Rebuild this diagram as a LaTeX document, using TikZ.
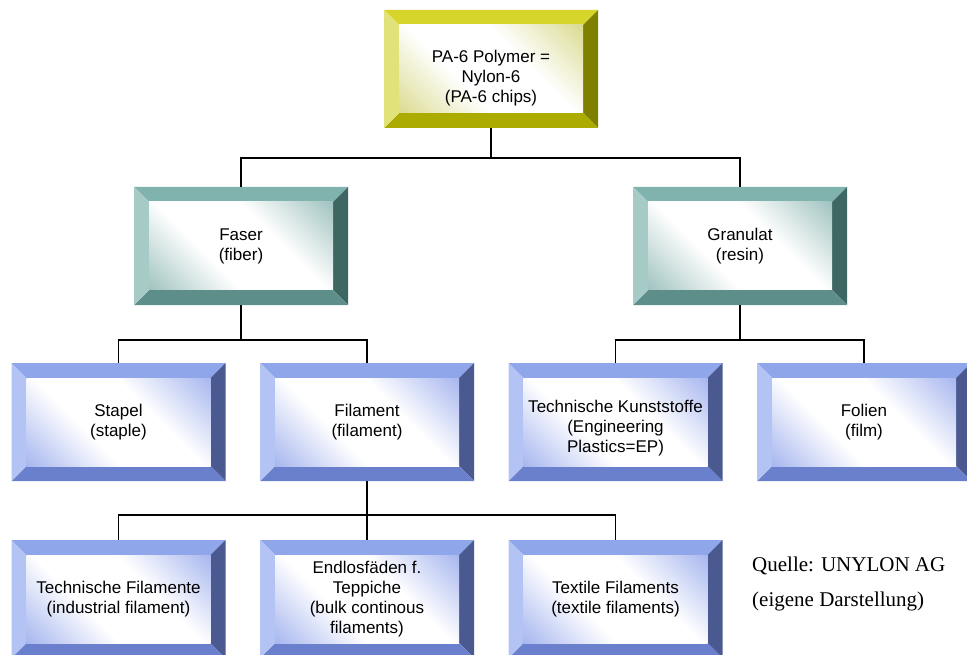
\documentclass[tikz,border=0pt]{standalone}
\usepackage{fontspec}
\setmainfont{Liberation Sans}
\newfontfamily\quellefont{Liberation Serif}
\usetikzlibrary{positioning}

% bevel colours: top, left, right, bottom edges and face tint
\definecolor{paTop}{HTML}{D5D52B}
\definecolor{paLeft}{HTML}{E2E27A}
\definecolor{paRight}{HTML}{7F7F00}
\definecolor{paBot}{HTML}{ABAB00}
\definecolor{paFace}{HTML}{D4D47C}
\definecolor{faTop}{HTML}{80B3AE}
\definecolor{faLeft}{HTML}{A6CBC7}
\definecolor{faRight}{HTML}{3E6663}
\definecolor{faBot}{HTML}{5E8E8A}
\definecolor{faFace}{HTML}{8FB8B4}
\definecolor{stTop}{HTML}{8FA6EA}
\definecolor{stLeft}{HTML}{B3C3F3}
\definecolor{stRight}{HTML}{4A5A90}
\definecolor{stBot}{HTML}{6A80CC}
\definecolor{stFace}{HTML}{97A9EC}

% face: tinted corners, broad white diagonal band
\pgfdeclareverticalshading[facetint]{bevelface}{100bp}{%
  color(0bp)=(facetint); color(10bp)=(facetint);
  color(39bp)=(white); color(61bp)=(white);
  color(90bp)=(facetint); color(100bp)=(facetint)}

\newcommand\boxfont{\fontsize{17}{20}\selectfont}
\newcommand\topgap[1]{\rule{0pt}{#1}}

% four bevel trapezoids plus the shaded face
\newcommand\bevelbox[1]{%
  \coordinate (o1) at (path picture bounding box.north west);
  \coordinate (o2) at (path picture bounding box.north east);
  \coordinate (o3) at (path picture bounding box.south east);
  \coordinate (o4) at (path picture bounding box.south west);
  \coordinate (i1) at ([shift={(15pt,-15pt)}]o1);
  \coordinate (i2) at ([shift={(-15pt,-15pt)}]o2);
  \coordinate (i3) at ([shift={(-15pt,15pt)}]o3);
  \coordinate (i4) at ([shift={(15pt,15pt)}]o4);
  \fill[#1Top] (o1) -- (o2) -- (i2) -- (i1) -- cycle;
  \fill[#1Right] (o2) -- (o3) -- (i3) -- (i2) -- cycle;
  \fill[#1Bot] (o3) -- (o4) -- (i4) -- (i3) -- cycle;
  \fill[#1Left] (o4) -- (o1) -- (i1) -- (i4) -- cycle;
  \colorlet{facetint}{#1Face}
  \shade[shading=bevelface, shading angle=-45] (i1) rectangle (i3);
}

\tikzset{
  box/.style={rectangle, minimum width=214pt, minimum height=118pt,
    inner sep=0pt, align=center, font=\boxfont,
    path picture={\bevelbox{#1}}},
  conn/.style={line width=1.6pt, black},
  source/.style={inner sep=0pt, align=left,
    font=\quellefont\fontsize{21}{35}\selectfont}
}

\begin{document}
\begin{tikzpicture}[x=1pt, y=-1pt]
  \useasboundingbox (0,0) rectangle (967,655);

  \node[box=pa] (pa6) at (491,69)
    {\topgap{31pt}PA-6 Polymer =\\Nylon-6\\(PA-6 chips)};

  \node[box=fa] (faser)    at (241,246) {Faser\\(fiber)};
  \node[box=fa] (granulat) at (740,246) {Granulat\\(resin)};

  \node[box=st] (stapel)      at (118.5,422) {Stapel\\(staple)};
  \node[box=st] (filament)    at (367,422)   {Filament\\(filament)};
  \node[box=st] (kunststoffe) at (615.5,422) {\topgap{25pt}Technische Kunststoffe\\(Engineering\\Plastics=EP)};
  \node[box=st] (folien)      at (864,422)   {Folien\\(film)};

  \node[box=st] (techfil) at (118.5,599) {Technische Filamente\\(industrial filament)};
  \node[box=st] (endlos)  at (367,599)   {Endlosfäden f.\\Teppiche\\(bulk continous\\filaments)};
  \node[box=st] (textil)  at (615.5,599) {Textile Filaments\\(textile filaments)};

  % bus lines between the levels
  \coordinate (bus1) at (0,158);
  \coordinate (bus2) at (0,340);
  \coordinate (bus3) at (0,515);

  \draw[conn] (pa6.south) -- (pa6.south |- bus1) -| (faser.north);
  \draw[conn] (pa6.south |- bus1) -| (granulat.north);
  \draw[conn] (faser.south) -- (faser.south |- bus2) -| (stapel.north);
  \draw[conn] (faser.south |- bus2) -| (filament.north);
  \draw[conn] (granulat.south) -- (granulat.south |- bus2) -| (kunststoffe.north);
  \draw[conn] (granulat.south |- bus2) -| (folien.north);
  \draw[conn] (filament.south) -- (filament.south |- bus3) -| (techfil.north);
  \draw[conn] (filament.south |- bus3) -| (endlos.north);
  \draw[conn] (filament.south |- bus3) -| (textil.north);

  \node[source, anchor=west] (quelle) at (752,584)
    {Quelle: UNYLON AG\\(eigene Darstellung)};
\end{tikzpicture}
\end{document}
